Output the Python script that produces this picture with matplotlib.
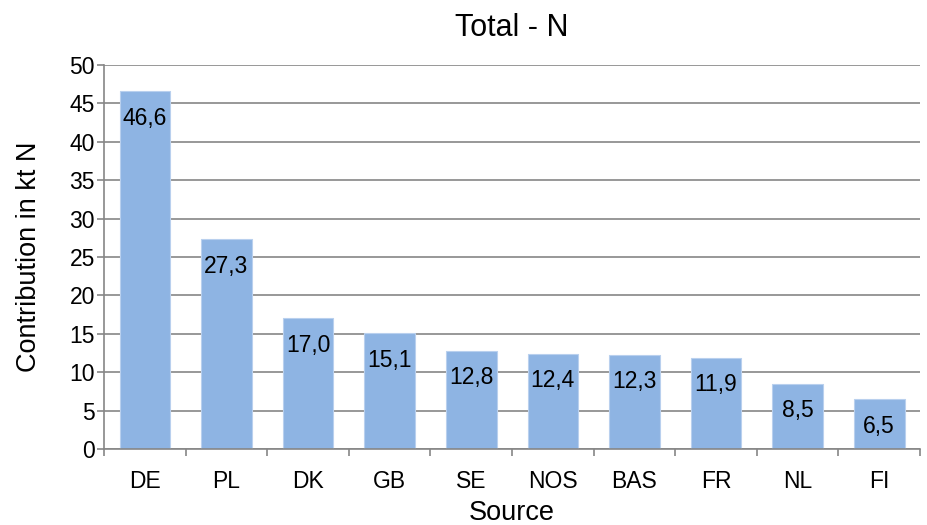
import matplotlib.pyplot as plt
import numpy as np

plt.rcParams['font.family'] = ['Liberation Sans', 'DejaVu Sans']

# data
sources = ['DE', 'PL', 'DK', 'GB', 'SE', 'NOS', 'BAS', 'FR', 'NL', 'FI']
values = [46.6, 27.3, 17.0, 15.1, 12.8, 12.4, 12.3, 11.9, 8.5, 6.5]
yticks = [0, 5, 10, 15, 20, 25, 30, 35, 40, 45, 50]

fig = plt.figure(figsize=(9.27, 5.25), dpi=100)
ax = fig.add_axes([0.1122, 0.1448, 0.8803, 0.7315])

x = np.arange(len(sources))
bars = ax.bar(x, values, width=0.62, color='#8EB4E3', edgecolor='#B9D0EE',
              linewidth=0.8, zorder=2)

# value labels inside top of bars, with comma decimal
for xi, v in zip(x, values):
    ax.annotate(('%.1f' % v).replace('.', ','), xy=(xi, v), xytext=(0, -19.5),
                textcoords='offset points', ha='center', va='center',
                fontsize=16.5, color='black', zorder=3)

ax.set_xlim(-0.5, len(sources) - 0.5)
ax.set_ylim(0, 50)
ax.set_yticks(yticks)
ax.yaxis.grid(True, color='#868686', linewidth=1.2, zorder=0)
ax.set_axisbelow(True)

ax.set_xticks(x)
ax.set_xticklabels(sources, fontsize=16.5)
ax.set_xticks(np.arange(len(sources) + 1) - 0.5, minor=True)
ax.tick_params(axis='x', which='major', length=0, pad=15)
ax.tick_params(axis='x', which='minor', length=5, width=1.2, color='#868686')
ax.tick_params(axis='y', length=5, width=1.2, color='#868686', labelsize=16.5, pad=1.5)

for side in ['top', 'right']:
    ax.spines[side].set_visible(False)
for side in ['left', 'bottom']:
    ax.spines[side].set_color('#868686')
    ax.spines[side].set_linewidth(1.2)

ax.set_xlabel('Source', fontsize=19.5, labelpad=5.5)
ax.set_ylabel('Contribution in kt N', fontsize=19.5, labelpad=20)
ax.set_title('Total - N', fontsize=22, pad=21)

fig.savefig('out.png', dpi=100)
